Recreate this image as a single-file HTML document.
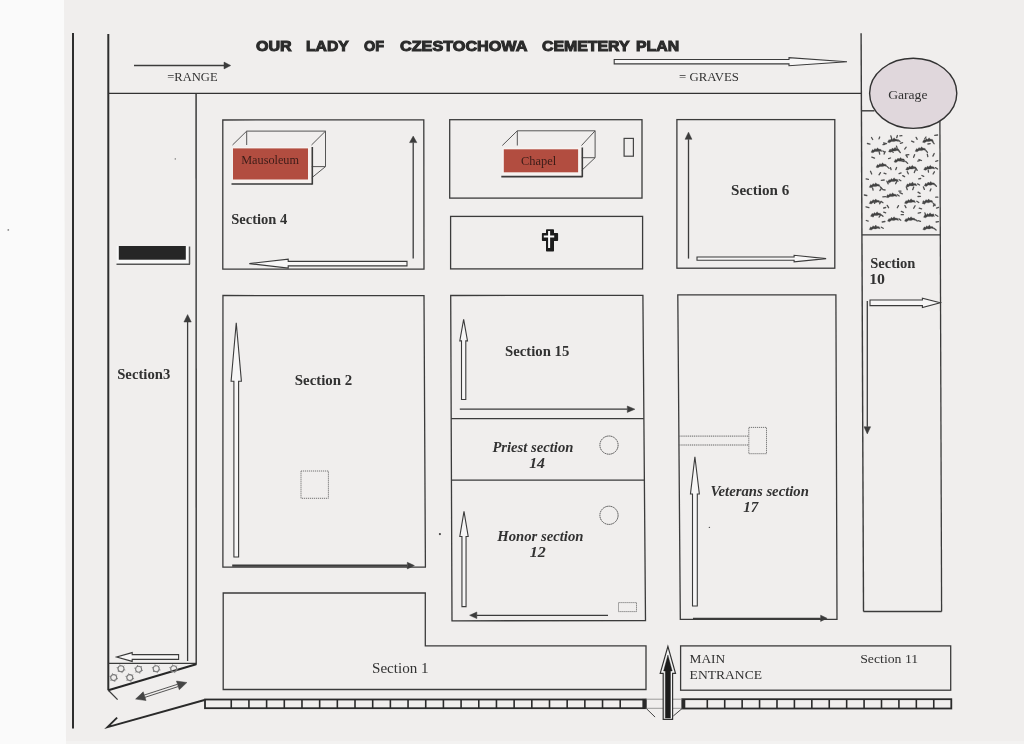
<!DOCTYPE html>
<html><head><meta charset="utf-8"><title>Our Lady of Czestochowa Cemetery Plan</title>
<style>
html,body{margin:0;padding:0;background:#f9f9f9;}
body{width:1024px;height:744px;overflow:hidden;position:relative;font-family:"Liberation Serif",serif;}
svg{position:absolute;left:0;top:0;}
</style></head><body>
<svg width="1024" height="744" viewBox="0 0 1024 744">
<rect x="0" y="0" width="1024" height="744" fill="#fafafa"/>
<polygon points="64,0 1024,0 1024,744 66,744" fill="#f0eeed"/>
<rect x="66" y="741" width="958" height="3" fill="#f3f2f1"/>
<defs><filter id="sb" filterUnits="userSpaceOnUse" x="0" y="0" width="1024" height="744"><feGaussianBlur stdDeviation="0.35"/></filter></defs>
<g filter="url(#sb)">
<circle cx="8.3" cy="229.9" r="0.9" fill="#888"/>
<circle cx="439.9" cy="534.1" r="1.1" fill="#444"/>
<circle cx="709.4" cy="527.4" r="0.7" fill="#555"/>
<circle cx="175.3" cy="158.9" r="0.7" fill="#666"/>
<line x1="73" y1="33" x2="73" y2="728.5" stroke="#2e2e2e" stroke-width="2.0" />
<line x1="108.3" y1="34" x2="108.3" y2="690.3" stroke="#2e2e2e" stroke-width="2.0" />
<line x1="108" y1="93.4" x2="861" y2="93.4" stroke="#333" stroke-width="1.4" />
<line x1="861.1" y1="33.2" x2="863.5" y2="611.5" stroke="#3a3a3a" stroke-width="1.4" />
<line x1="196.1" y1="93.4" x2="196.2" y2="664.8" stroke="#333" stroke-width="1.4" />
<text x="256.00" y="51.10" font-family="Liberation Sans" font-size="14.6" font-weight="bold" font-style="normal" fill="#2a2a2a" textLength="35.74" lengthAdjust="spacingAndGlyphs" stroke="#2a2a2a" stroke-width="1.0">OUR</text>
<text x="306.00" y="51.10" font-family="Liberation Sans" font-size="14.6" font-weight="bold" font-style="normal" fill="#2a2a2a" textLength="42.81" lengthAdjust="spacingAndGlyphs" stroke="#2a2a2a" stroke-width="1.0">LADY</text>
<text x="364.00" y="51.10" font-family="Liberation Sans" font-size="14.6" font-weight="bold" font-style="normal" fill="#2a2a2a" textLength="20.05" lengthAdjust="spacingAndGlyphs" stroke="#2a2a2a" stroke-width="1.0">OF</text>
<text x="400.00" y="51.10" font-family="Liberation Sans" font-size="14.6" font-weight="bold" font-style="normal" fill="#2a2a2a" textLength="127.47" lengthAdjust="spacingAndGlyphs" stroke="#2a2a2a" stroke-width="1.0">CZESTOCHOWA</text>
<text x="542.00" y="51.10" font-family="Liberation Sans" font-size="14.6" font-weight="bold" font-style="normal" fill="#2a2a2a" textLength="87.51" lengthAdjust="spacingAndGlyphs" stroke="#2a2a2a" stroke-width="1.0">CEMETERY</text>
<text x="636.00" y="51.10" font-family="Liberation Sans" font-size="14.6" font-weight="bold" font-style="normal" fill="#2a2a2a" textLength="43.06" lengthAdjust="spacingAndGlyphs" stroke="#2a2a2a" stroke-width="1.0">PLAN</text>
<line x1="134" y1="65.5" x2="224" y2="65.5" stroke="#3b3b3b" stroke-width="1.6" />
<polygon points="224.00,62.10 230.70,65.50 224.00,68.90" stroke="#3b3b3b" stroke-width="0.5" fill="#3b3b3b" stroke-linejoin="miter" />
<text x="167.20" y="80.70" font-family="Liberation Serif" font-size="13" font-weight="normal" font-style="normal" fill="#323232" textLength="50.47" lengthAdjust="spacingAndGlyphs" >=RANGE</text>
<polygon points="614.20,59.50 789.00,59.50 789.00,57.70 847.00,61.70 789.00,65.70 789.00,63.90 614.20,63.90" stroke="#3b3b3b" stroke-width="1.1" fill="#f7f6f6" stroke-linejoin="miter" />
<text x="679.00" y="80.50" font-family="Liberation Serif" font-size="13" font-weight="normal" font-style="normal" fill="#323232" textLength="59.89" lengthAdjust="spacingAndGlyphs" >= GRAVES</text>
<ellipse cx="913.2" cy="93.3" rx="43.6" ry="35.1" fill="#e0d7dc" stroke="#333" stroke-width="1.4"/>
<text x="888.20" y="98.50" font-family="Liberation Serif" font-size="13.5" font-weight="normal" font-style="normal" fill="#323232" textLength="39.29" lengthAdjust="spacingAndGlyphs" >Garage</text>
<line x1="861.2" y1="110.8" x2="874.5" y2="110.8" stroke="#3b3b3b" stroke-width="1.4" />
<line x1="939.9" y1="121" x2="941.6" y2="611.5" stroke="#3b3b3b" stroke-width="1.3" />
<line x1="863.5" y1="611.5" x2="941.6" y2="611.5" stroke="#3b3b3b" stroke-width="1.3" />
<line x1="861.8" y1="234.8" x2="940.3" y2="234.8" stroke="#3b3b3b" stroke-width="1.3" />
<path d="M871.0,152.2 L872.5,149.5 L873.5,150.3 L875.0,148.4 L876.0,149.4 L877.7,147.8 L878.5,149.1 L881.0,149.4 L882.0,151.5 L879.5,150.9 L877.5,151.6 L875.0,151.4 L873.0,152.8 Z" fill="#424242" stroke="#424242" stroke-width="0.3" stroke-linejoin="round"/>
<path d="M870.0,144.2 l-2.6,-0.7" stroke="#505050" stroke-width="1.3" stroke-linecap="round"/>
<path d="M872.7,139.5 l-1.2,-2.0" stroke="#505050" stroke-width="1.3" stroke-linecap="round"/>
<path d="M879.0,138.9 l0.7,-1.9" stroke="#505050" stroke-width="1.3" stroke-linecap="round"/>
<path d="M883.0,144.7 l2.0,-0.4" stroke="#505050" stroke-width="1.3" stroke-linecap="round"/>
<path d="M882.9,151.0 l1.7,1.3" stroke="#505050" stroke-width="1.3" stroke-linecap="round"/>
<path d="M888.5,151.7 L890.0,149.0 L891.0,149.8 L892.5,147.9 L893.5,148.9 L895.2,147.3 L896.0,148.6 L898.5,148.9 L899.5,151.0 L897.0,150.4 L895.0,151.1 L892.5,150.9 L890.5,152.3 Z" fill="#424242" stroke="#424242" stroke-width="0.3" stroke-linejoin="round"/>
<path d="M886.5,143.7 l-2.9,-0.7" stroke="#505050" stroke-width="1.3" stroke-linecap="round"/>
<path d="M891.7,138.6 l-0.9,-2.8" stroke="#505050" stroke-width="1.3" stroke-linecap="round"/>
<path d="M896.7,137.7 l0.7,-2.2" stroke="#505050" stroke-width="1.3" stroke-linecap="round"/>
<path d="M900.4,143.4 l2.2,-0.7" stroke="#505050" stroke-width="1.3" stroke-linecap="round"/>
<path d="M898.6,150.6 l1.7,1.9" stroke="#505050" stroke-width="1.3" stroke-linecap="round"/>
<path d="M915.1,151.2 L916.6,148.5 L917.6,149.3 L919.1,147.4 L920.1,148.4 L921.8,146.8 L922.6,148.1 L925.1,148.4 L926.1,150.5 L923.6,149.9 L921.6,150.6 L919.1,150.4 L917.1,151.8 Z" fill="#424242" stroke="#424242" stroke-width="0.3" stroke-linejoin="round"/>
<path d="M913.9,142.1 l-2.3,-1.0" stroke="#505050" stroke-width="1.3" stroke-linecap="round"/>
<path d="M917.2,139.3 l-1.1,-1.9" stroke="#505050" stroke-width="1.3" stroke-linecap="round"/>
<path d="M924.7,138.9 l1.3,-1.9" stroke="#505050" stroke-width="1.3" stroke-linecap="round"/>
<path d="M927.9,144.0 l2.3,-0.3" stroke="#505050" stroke-width="1.3" stroke-linecap="round"/>
<path d="M926.0,150.8 l1.5,1.6" stroke="#505050" stroke-width="1.3" stroke-linecap="round"/>
<path d="M876.0,167.2 L877.5,164.5 L878.5,165.3 L880.0,163.4 L881.0,164.4 L882.7,162.8 L883.5,164.1 L886.0,164.4 L887.0,166.5 L884.5,165.9 L882.5,166.6 L880.0,166.4 L878.0,167.8 Z" fill="#424242" stroke="#424242" stroke-width="0.3" stroke-linejoin="round"/>
<path d="M874.5,158.2 l-2.7,-1.1" stroke="#505050" stroke-width="1.3" stroke-linecap="round"/>
<path d="M879.7,154.1 l-0.7,-2.9" stroke="#505050" stroke-width="1.3" stroke-linecap="round"/>
<path d="M884.1,154.1 l1.0,-2.6" stroke="#505050" stroke-width="1.3" stroke-linecap="round"/>
<path d="M888.6,158.6 l1.9,-0.6" stroke="#505050" stroke-width="1.3" stroke-linecap="round"/>
<path d="M887.3,166.6 l1.8,1.8" stroke="#505050" stroke-width="1.3" stroke-linecap="round"/>
<path d="M894.0,161.9 L895.5,159.2 L896.5,160.0 L898.0,158.1 L899.0,159.1 L900.7,157.5 L901.5,158.8 L904.0,159.1 L905.0,161.2 L902.5,160.6 L900.5,161.3 L898.0,161.1 L896.0,162.5 Z" fill="#424242" stroke="#424242" stroke-width="0.3" stroke-linejoin="round"/>
<path d="M893.3,152.2 l-2.4,-1.3" stroke="#505050" stroke-width="1.3" stroke-linecap="round"/>
<path d="M897.2,148.4 l-0.7,-2.3" stroke="#505050" stroke-width="1.3" stroke-linecap="round"/>
<path d="M904.7,149.1 l1.5,-1.9" stroke="#505050" stroke-width="1.3" stroke-linecap="round"/>
<path d="M906.1,155.0 l2.7,-0.3" stroke="#505050" stroke-width="1.3" stroke-linecap="round"/>
<path d="M905.7,161.5 l2.0,1.9" stroke="#505050" stroke-width="1.3" stroke-linecap="round"/>
<path d="M905.7,169.7 L907.2,167.0 L908.2,167.8 L909.7,165.9 L910.7,166.9 L912.4,165.3 L913.2,166.6 L915.7,166.9 L916.7,169.0 L914.2,168.4 L912.2,169.1 L909.7,168.9 L907.7,170.3 Z" fill="#424242" stroke="#424242" stroke-width="0.3" stroke-linejoin="round"/>
<path d="M904.2,161.6 l-2.6,-0.7" stroke="#505050" stroke-width="1.3" stroke-linecap="round"/>
<path d="M907.3,157.2 l-1.1,-1.8" stroke="#505050" stroke-width="1.3" stroke-linecap="round"/>
<path d="M913.6,157.3 l1.0,-2.6" stroke="#505050" stroke-width="1.3" stroke-linecap="round"/>
<path d="M917.8,161.2 l2.3,-0.8" stroke="#505050" stroke-width="1.3" stroke-linecap="round"/>
<path d="M915.6,168.5 l1.6,1.8" stroke="#505050" stroke-width="1.3" stroke-linecap="round"/>
<path d="M923.7,169.7 L925.2,167.0 L926.2,167.8 L927.7,165.9 L928.7,166.9 L930.4,165.3 L931.2,166.6 L933.7,166.9 L934.7,169.0 L932.2,168.4 L930.2,169.1 L927.7,168.9 L925.7,170.3 Z" fill="#424242" stroke="#424242" stroke-width="0.3" stroke-linejoin="round"/>
<path d="M921.5,160.5 l-2.6,-1.0" stroke="#505050" stroke-width="1.3" stroke-linecap="round"/>
<path d="M927.8,156.6 l-0.5,-2.4" stroke="#505050" stroke-width="1.3" stroke-linecap="round"/>
<path d="M932.9,156.1 l1.3,-2.6" stroke="#505050" stroke-width="1.3" stroke-linecap="round"/>
<path d="M935.7,161.3 l2.1,-0.7" stroke="#505050" stroke-width="1.3" stroke-linecap="round"/>
<path d="M935.4,167.6 l2.2,1.4" stroke="#505050" stroke-width="1.3" stroke-linecap="round"/>
<path d="M869.2,187.2 L870.7,184.5 L871.7,185.3 L873.2,183.4 L874.2,184.4 L875.9,182.8 L876.7,184.1 L879.2,184.4 L880.2,186.5 L877.7,185.9 L875.7,186.6 L873.2,186.4 L871.2,187.8 Z" fill="#424242" stroke="#424242" stroke-width="0.3" stroke-linejoin="round"/>
<path d="M868.4,179.4 l-2.3,-0.6" stroke="#505050" stroke-width="1.3" stroke-linecap="round"/>
<path d="M871.7,174.0 l-1.2,-2.7" stroke="#505050" stroke-width="1.3" stroke-linecap="round"/>
<path d="M879.0,174.8 l1.5,-2.2" stroke="#505050" stroke-width="1.3" stroke-linecap="round"/>
<path d="M881.3,180.3 l2.9,-0.3" stroke="#505050" stroke-width="1.3" stroke-linecap="round"/>
<path d="M880.4,187.0 l1.9,2.0" stroke="#505050" stroke-width="1.3" stroke-linecap="round"/>
<path d="M887.5,182.2 L889.0,179.5 L890.0,180.3 L891.5,178.4 L892.5,179.4 L894.2,177.8 L895.0,179.1 L897.5,179.4 L898.5,181.5 L896.0,180.9 L894.0,181.6 L891.5,181.4 L889.5,182.8 Z" fill="#424242" stroke="#424242" stroke-width="0.3" stroke-linejoin="round"/>
<path d="M886.0,173.8 l-2.0,-0.6" stroke="#505050" stroke-width="1.3" stroke-linecap="round"/>
<path d="M891.1,169.7 l-0.6,-2.0" stroke="#505050" stroke-width="1.3" stroke-linecap="round"/>
<path d="M895.7,169.7 l0.9,-2.2" stroke="#505050" stroke-width="1.3" stroke-linecap="round"/>
<path d="M899.1,173.7 l2.0,-0.8" stroke="#505050" stroke-width="1.3" stroke-linecap="round"/>
<path d="M899.2,179.7 l1.7,1.0" stroke="#505050" stroke-width="1.3" stroke-linecap="round"/>
<path d="M905.9,186.5 L907.4,183.8 L908.4,184.6 L909.9,182.7 L910.9,183.7 L912.6,182.1 L913.4,183.4 L915.9,183.7 L916.9,185.8 L914.4,185.2 L912.4,185.9 L909.9,185.7 L907.9,187.1 Z" fill="#424242" stroke="#424242" stroke-width="0.3" stroke-linejoin="round"/>
<path d="M904.6,176.6 l-1.9,-1.0" stroke="#505050" stroke-width="1.3" stroke-linecap="round"/>
<path d="M908.3,173.8 l-1.0,-2.1" stroke="#505050" stroke-width="1.3" stroke-linecap="round"/>
<path d="M914.3,172.6 l1.1,-2.8" stroke="#505050" stroke-width="1.3" stroke-linecap="round"/>
<path d="M918.7,178.9 l2.0,-0.4" stroke="#505050" stroke-width="1.3" stroke-linecap="round"/>
<path d="M917.6,183.9 l2.0,1.1" stroke="#505050" stroke-width="1.3" stroke-linecap="round"/>
<path d="M924.2,185.8 L925.7,183.1 L926.7,183.9 L928.2,182.0 L929.2,183.0 L930.9,181.4 L931.7,182.7 L934.2,183.0 L935.2,185.1 L932.7,184.5 L930.7,185.2 L928.2,185.0 L926.2,186.4 Z" fill="#424242" stroke="#424242" stroke-width="0.3" stroke-linejoin="round"/>
<path d="M923.7,176.4 l-1.8,-0.9" stroke="#505050" stroke-width="1.3" stroke-linecap="round"/>
<path d="M928.5,172.1 l-0.3,-2.1" stroke="#505050" stroke-width="1.3" stroke-linecap="round"/>
<path d="M933.1,174.0 l1.3,-2.2" stroke="#505050" stroke-width="1.3" stroke-linecap="round"/>
<path d="M934.7,184.5 l1.7,1.7" stroke="#505050" stroke-width="1.3" stroke-linecap="round"/>
<path d="M869.2,203.4 L870.7,200.7 L871.7,201.5 L873.2,199.6 L874.2,200.6 L875.9,199.0 L876.7,200.3 L879.2,200.6 L880.2,202.7 L877.7,202.1 L875.7,202.8 L873.2,202.6 L871.2,204.0 Z" fill="#424242" stroke="#424242" stroke-width="0.3" stroke-linejoin="round"/>
<path d="M866.8,195.5 l-2.5,-0.5" stroke="#505050" stroke-width="1.3" stroke-linecap="round"/>
<path d="M873.1,190.2 l-0.5,-2.2" stroke="#505050" stroke-width="1.3" stroke-linecap="round"/>
<path d="M879.9,190.5 l1.7,-2.3" stroke="#505050" stroke-width="1.3" stroke-linecap="round"/>
<path d="M882.8,196.8 l2.7,-0.1" stroke="#505050" stroke-width="1.3" stroke-linecap="round"/>
<path d="M881.0,201.4 l2.0,1.3" stroke="#505050" stroke-width="1.3" stroke-linecap="round"/>
<path d="M886.1,197.2 L887.6,194.5 L888.6,195.3 L890.1,193.4 L891.1,194.4 L892.8,192.8 L893.6,194.1 L896.1,194.4 L897.1,196.5 L894.6,195.9 L892.6,196.6 L890.1,196.4 L888.1,197.8 Z" fill="#424242" stroke="#424242" stroke-width="0.3" stroke-linejoin="round"/>
<path d="M885.1,190.0 l-2.3,-0.3" stroke="#505050" stroke-width="1.3" stroke-linecap="round"/>
<path d="M888.2,183.9 l-1.3,-2.7" stroke="#505050" stroke-width="1.3" stroke-linecap="round"/>
<path d="M895.6,183.7 l1.4,-2.6" stroke="#505050" stroke-width="1.3" stroke-linecap="round"/>
<path d="M898.8,191.1 l2.2,0.0" stroke="#505050" stroke-width="1.3" stroke-linecap="round"/>
<path d="M897.4,194.8 l1.8,1.2" stroke="#505050" stroke-width="1.3" stroke-linecap="round"/>
<path d="M904.5,203.2 L906.0,200.5 L907.0,201.3 L908.5,199.4 L909.5,200.4 L911.2,198.8 L912.0,200.1 L914.5,200.4 L915.5,202.5 L913.0,201.9 L911.0,202.6 L908.5,202.4 L906.5,203.8 Z" fill="#424242" stroke="#424242" stroke-width="0.3" stroke-linejoin="round"/>
<path d="M902.4,193.8 l-2.6,-1.1" stroke="#505050" stroke-width="1.3" stroke-linecap="round"/>
<path d="M907.3,189.7 l-1.0,-2.6" stroke="#505050" stroke-width="1.3" stroke-linecap="round"/>
<path d="M912.7,189.7 l1.0,-2.7" stroke="#505050" stroke-width="1.3" stroke-linecap="round"/>
<path d="M918.0,196.5 l2.5,-0.1" stroke="#505050" stroke-width="1.3" stroke-linecap="round"/>
<path d="M916.8,201.3 l2.0,1.2" stroke="#505050" stroke-width="1.3" stroke-linecap="round"/>
<path d="M922.1,203.4 L923.6,200.7 L924.6,201.5 L926.1,199.6 L927.1,200.6 L928.8,199.0 L929.6,200.3 L932.1,200.6 L933.1,202.7 L930.6,202.1 L928.6,202.8 L926.1,202.6 L924.1,204.0 Z" fill="#424242" stroke="#424242" stroke-width="0.3" stroke-linejoin="round"/>
<path d="M920.1,193.3 l-2.1,-1.1" stroke="#505050" stroke-width="1.3" stroke-linecap="round"/>
<path d="M924.4,189.4 l-1.0,-2.5" stroke="#505050" stroke-width="1.3" stroke-linecap="round"/>
<path d="M930.1,190.9 l0.8,-2.0" stroke="#505050" stroke-width="1.3" stroke-linecap="round"/>
<path d="M935.7,197.2 l2.1,-0.0" stroke="#505050" stroke-width="1.3" stroke-linecap="round"/>
<path d="M933.3,203.5 l1.8,2.0" stroke="#505050" stroke-width="1.3" stroke-linecap="round"/>
<path d="M887.5,221.1 L889.0,218.4 L890.0,219.2 L891.5,217.3 L892.5,218.3 L894.2,216.7 L895.0,218.0 L897.5,218.3 L898.5,220.4 L896.0,219.8 L894.0,220.5 L891.5,220.3 L889.5,221.7 Z" fill="#424242" stroke="#424242" stroke-width="0.3" stroke-linejoin="round"/>
<path d="M885.7,212.8 l-2.0,-0.6" stroke="#505050" stroke-width="1.3" stroke-linecap="round"/>
<path d="M888.6,207.7 l-1.4,-2.3" stroke="#505050" stroke-width="1.3" stroke-linecap="round"/>
<path d="M897.3,207.7 l1.2,-2.1" stroke="#505050" stroke-width="1.3" stroke-linecap="round"/>
<path d="M901.2,214.7 l2.2,-0.0" stroke="#505050" stroke-width="1.3" stroke-linecap="round"/>
<path d="M898.9,218.9 l1.9,1.3" stroke="#505050" stroke-width="1.3" stroke-linecap="round"/>
<path d="M904.5,221.1 L906.0,218.4 L907.0,219.2 L908.5,217.3 L909.5,218.3 L911.2,216.7 L912.0,218.0 L914.5,218.3 L915.5,220.4 L913.0,219.8 L911.0,220.5 L908.5,220.3 L906.5,221.7 Z" fill="#424242" stroke="#424242" stroke-width="0.3" stroke-linejoin="round"/>
<path d="M903.5,212.3 l-2.2,-0.9" stroke="#505050" stroke-width="1.3" stroke-linecap="round"/>
<path d="M906.0,207.6 l-1.1,-2.1" stroke="#505050" stroke-width="1.3" stroke-linecap="round"/>
<path d="M913.7,208.2 l1.4,-2.5" stroke="#505050" stroke-width="1.3" stroke-linecap="round"/>
<path d="M918.2,213.2 l2.4,-0.5" stroke="#505050" stroke-width="1.3" stroke-linecap="round"/>
<path d="M915.7,219.8 l1.5,1.3" stroke="#505050" stroke-width="1.3" stroke-linecap="round"/>
<path d="M869.2,229.5 L870.7,226.8 L871.7,227.6 L873.2,225.7 L874.2,226.7 L875.9,225.1 L876.7,226.4 L879.2,226.7 L880.2,228.8 L877.7,228.2 L875.7,228.9 L873.2,228.7 L871.2,230.1 Z" fill="#424242" stroke="#424242" stroke-width="0.3" stroke-linejoin="round"/>
<path d="M868.2,221.1 l-1.9,-0.6" stroke="#505050" stroke-width="1.3" stroke-linecap="round"/>
<path d="M873.2,216.6 l-0.5,-2.4" stroke="#505050" stroke-width="1.3" stroke-linecap="round"/>
<path d="M879.1,217.1 l1.3,-1.9" stroke="#505050" stroke-width="1.3" stroke-linecap="round"/>
<path d="M882.2,222.0 l2.7,-0.5" stroke="#505050" stroke-width="1.3" stroke-linecap="round"/>
<path d="M881.3,227.2 l1.9,1.1" stroke="#505050" stroke-width="1.3" stroke-linecap="round"/>
<path d="M922.8,229.5 L924.3,226.8 L925.3,227.6 L926.8,225.7 L927.8,226.7 L929.5,225.1 L930.3,226.4 L932.8,226.7 L933.8,228.8 L931.3,228.2 L929.3,228.9 L926.8,228.7 L924.8,230.1 Z" fill="#424242" stroke="#424242" stroke-width="0.3" stroke-linejoin="round"/>
<path d="M920.5,221.3 l-2.4,-0.6" stroke="#505050" stroke-width="1.3" stroke-linecap="round"/>
<path d="M925.8,215.7 l-0.9,-2.8" stroke="#505050" stroke-width="1.3" stroke-linecap="round"/>
<path d="M932.0,216.5 l1.2,-2.2" stroke="#505050" stroke-width="1.3" stroke-linecap="round"/>
<path d="M936.1,222.0 l2.4,-0.4" stroke="#505050" stroke-width="1.3" stroke-linecap="round"/>
<path d="M933.9,228.2 l2.2,1.9" stroke="#505050" stroke-width="1.3" stroke-linecap="round"/>
<path d="M887.5,142.2 L889.0,139.5 L890.0,140.3 L891.5,138.4 L892.5,139.4 L894.2,137.8 L895.0,139.1 L897.5,139.4 L898.5,141.5 L896.0,140.9 L894.0,141.6 L891.5,141.4 L889.5,142.8 Z" fill="#424242" stroke="#424242" stroke-width="0.3" stroke-linejoin="round"/>
<path d="M899.8,135.8 l2.1,-0.1" stroke="#505050" stroke-width="1.3" stroke-linecap="round"/>
<path d="M898.2,140.1 l1.8,1.4" stroke="#505050" stroke-width="1.3" stroke-linecap="round"/>
<path d="M922.5,142.2 L924.0,139.5 L925.0,140.3 L926.5,138.4 L927.5,139.4 L929.2,137.8 L930.0,139.1 L932.5,139.4 L933.5,141.5 L931.0,140.9 L929.0,141.6 L926.5,141.4 L924.5,142.8 Z" fill="#424242" stroke="#424242" stroke-width="0.3" stroke-linejoin="round"/>
<path d="M934.7,135.3 l2.9,-0.3" stroke="#505050" stroke-width="1.3" stroke-linecap="round"/>
<path d="M932.3,141.4 l1.8,2.3" stroke="#505050" stroke-width="1.3" stroke-linecap="round"/>
<path d="M870.5,216.2 L872.0,213.5 L873.0,214.3 L874.5,212.4 L875.5,213.4 L877.2,211.8 L878.0,213.1 L880.5,213.4 L881.5,215.5 L879.0,214.9 L877.0,215.6 L874.5,215.4 L872.5,216.8 Z" fill="#424242" stroke="#424242" stroke-width="0.3" stroke-linejoin="round"/>
<path d="M868.9,207.7 l-2.9,-0.9" stroke="#505050" stroke-width="1.3" stroke-linecap="round"/>
<path d="M874.6,203.3 l-0.5,-2.4" stroke="#505050" stroke-width="1.3" stroke-linecap="round"/>
<path d="M879.6,203.8 l1.1,-1.9" stroke="#505050" stroke-width="1.3" stroke-linecap="round"/>
<path d="M883.7,208.0 l2.0,-0.5" stroke="#505050" stroke-width="1.3" stroke-linecap="round"/>
<path d="M881.5,214.9 l1.5,1.3" stroke="#505050" stroke-width="1.3" stroke-linecap="round"/>
<path d="M923.5,217.2 L925.0,214.5 L926.0,215.3 L927.5,213.4 L928.5,214.4 L930.2,212.8 L931.0,214.1 L933.5,214.4 L934.5,216.5 L932.0,215.9 L930.0,216.6 L927.5,216.4 L925.5,217.8 Z" fill="#424242" stroke="#424242" stroke-width="0.3" stroke-linejoin="round"/>
<path d="M921.6,208.9 l-2.4,-0.7" stroke="#505050" stroke-width="1.3" stroke-linecap="round"/>
<path d="M924.7,203.7 l-1.4,-2.4" stroke="#505050" stroke-width="1.3" stroke-linecap="round"/>
<path d="M933.4,206.0 l1.5,-1.7" stroke="#505050" stroke-width="1.3" stroke-linecap="round"/>
<path d="M936.5,208.1 l2.1,-0.8" stroke="#505050" stroke-width="1.3" stroke-linecap="round"/>
<path d="M935.3,214.8 l2.5,1.5" stroke="#505050" stroke-width="1.3" stroke-linecap="round"/>
<text x="870.20" y="267.60" font-family="Liberation Serif" font-size="14.5" font-weight="bold" font-style="normal" fill="#323232" textLength="45.22" lengthAdjust="spacingAndGlyphs" >Section</text>
<text x="869.20" y="284.00" font-family="Liberation Serif" font-size="14.5" font-weight="bold" font-style="normal" fill="#323232" textLength="15.85" lengthAdjust="spacingAndGlyphs" >10</text>
<polygon points="870.00,300.00 922.40,300.00 922.40,298.10 940.20,302.80 922.40,307.50 922.40,305.60 870.00,305.60" stroke="#3b3b3b" stroke-width="1.1" fill="#f7f6f6" stroke-linejoin="miter" />
<line x1="867.3" y1="301" x2="867.3" y2="426.8" stroke="#3b3b3b" stroke-width="1.3" />
<polygon points="864.00,426.80 867.30,433.90 870.60,426.80" stroke="#3b3b3b" stroke-width="0.5" fill="#3b3b3b" stroke-linejoin="miter" />
<polygon points="222.80,120.00 423.80,119.80 424.00,269.20 222.80,269.10" stroke="#3b3b3b" stroke-width="1.3" fill="none" stroke-linejoin="miter" />
<text x="231.20" y="223.70" font-family="Liberation Serif" font-size="14.5" font-weight="bold" font-style="normal" fill="#323232" textLength="56.09" lengthAdjust="spacingAndGlyphs" >Section 4</text>
<line x1="413.2" y1="258.5" x2="413.2" y2="142.6" stroke="#3b3b3b" stroke-width="1.3" />
<polygon points="409.55,142.60 413.20,136.10 416.85,142.60" stroke="#3b3b3b" stroke-width="0.5" fill="#3b3b3b" stroke-linejoin="miter" />
<polygon points="407.00,261.35 288.20,261.35 288.20,259.10 249.30,263.60 288.20,268.10 288.20,265.85 407.00,265.85" stroke="#3b3b3b" stroke-width="1.1" fill="#f7f6f6" stroke-linejoin="miter" />
<line x1="246.7" y1="131.1" x2="325.5" y2="131.1" stroke="#555" stroke-width="1.0" />
<line x1="325.5" y1="131.1" x2="325.5" y2="166.6" stroke="#555" stroke-width="1.0" />
<line x1="311.5" y1="166.6" x2="325.5" y2="166.6" stroke="#555" stroke-width="1.0" />
<line x1="246.7" y1="131.1" x2="246.7" y2="145" stroke="#555" stroke-width="1.0" />
<line x1="232.5" y1="145" x2="246.7" y2="131.1" stroke="#555" stroke-width="1.0" />
<line x1="311.5" y1="145" x2="325.5" y2="131.1" stroke="#555" stroke-width="1.0" />
<line x1="311.5" y1="178" x2="325.5" y2="166.6" stroke="#555" stroke-width="1.0" />
<rect x="232.5" y="147" width="79.0" height="36" fill="#f7f2f0"/>
<rect x="233" y="148.4" width="75" height="31.099999999999994" fill="#b24e41"/>
<line x1="231.5" y1="184" x2="312.5" y2="184" stroke="#3a3a3a" stroke-width="1.6" />
<line x1="312.3" y1="147" x2="312.3" y2="184.5" stroke="#3a3a3a" stroke-width="1.6" />
<text x="241.20" y="164.30" font-family="Liberation Serif" font-size="12" font-weight="normal" font-style="normal" fill="#3c1c18" textLength="57.81" lengthAdjust="spacingAndGlyphs" >Mausoleum</text>
<rect x="449.7" y="119.7" width="192.30" height="78.40" stroke="#3b3b3b" stroke-width="1.3" fill="none" />
<line x1="517.3" y1="130.8" x2="595.1" y2="130.8" stroke="#555" stroke-width="1.0" />
<line x1="595.1" y1="130.8" x2="595.1" y2="157.7" stroke="#555" stroke-width="1.0" />
<line x1="581.5" y1="157.7" x2="595.1" y2="157.7" stroke="#555" stroke-width="1.0" />
<line x1="517.3" y1="130.8" x2="517.3" y2="145.5" stroke="#555" stroke-width="1.0" />
<line x1="502.3" y1="145.5" x2="517.3" y2="130.8" stroke="#555" stroke-width="1.0" />
<line x1="581.5" y1="145.5" x2="595.1" y2="130.8" stroke="#555" stroke-width="1.0" />
<line x1="581.5" y1="170.6" x2="595.1" y2="157.7" stroke="#555" stroke-width="1.0" />
<rect x="502.3" y="147.5" width="79.19999999999999" height="28.099999999999994" fill="#f7f2f0"/>
<rect x="503.8" y="149.3" width="74.30000000000001" height="23.0" fill="#b24e41"/>
<line x1="501.3" y1="176.6" x2="582.5" y2="176.6" stroke="#3a3a3a" stroke-width="1.6" />
<line x1="582.3" y1="147.5" x2="582.3" y2="177.1" stroke="#3a3a3a" stroke-width="1.6" />
<text x="521.00" y="165.00" font-family="Liberation Serif" font-size="12" font-weight="normal" font-style="normal" fill="#3c1c18" textLength="35.28" lengthAdjust="spacingAndGlyphs" >Chapel</text>
<rect x="624.1" y="138.4" width="9.30" height="17.80" stroke="#444" stroke-width="1.2" fill="none" />
<rect x="450.6" y="216.4" width="192.00" height="52.50" stroke="#3b3b3b" stroke-width="1.3" fill="none" />
<path d="M546.75,230.05 H553.25 V233.85 H557.35 V240.25 H553.25 V250.75 H546.75 V240.25 H542.65 V233.85 H546.75 Z" fill="#1e1e1e" stroke="#1e1e1e" stroke-width="1.5" stroke-linejoin="round"/>
<path d="M548.1,231 h2 v4.5 h4.1 v2 h-4.1 v10.6 h-2 v-10.6 h-4.3 v-2 h4.3 z" fill="#fafafa"/>
<rect x="676.9" y="119.6" width="157.90" height="148.60" stroke="#3b3b3b" stroke-width="1.3" fill="none" />
<text x="731.00" y="195.00" font-family="Liberation Serif" font-size="14.5" font-weight="bold" font-style="normal" fill="#323232" textLength="58.23" lengthAdjust="spacingAndGlyphs" >Section 6</text>
<line x1="688.5" y1="258.6" x2="688.5" y2="139.3" stroke="#3b3b3b" stroke-width="1.3" />
<polygon points="685.05,139.30 688.50,132.20 691.95,139.30" stroke="#3b3b3b" stroke-width="0.5" fill="#3b3b3b" stroke-linejoin="miter" />
<polygon points="697.00,257.00 794.10,257.00 794.10,255.30 826.10,258.60 794.10,261.90 794.10,260.20 697.00,260.20" stroke="#3b3b3b" stroke-width="1.1" fill="#f7f6f6" stroke-linejoin="miter" />
<rect x="116.5" y="246" width="73" height="18.3" fill="#f8f8f8"/>
<rect x="118.8" y="246" width="67" height="13.7" fill="#262626"/>
<line x1="116.5" y1="264.3" x2="190" y2="264.3" stroke="#555" stroke-width="1.5" />
<line x1="189.5" y1="246.5" x2="189.5" y2="264.3" stroke="#555" stroke-width="1.5" />
<text x="117.20" y="378.60" font-family="Liberation Serif" font-size="14.5" font-weight="bold" font-style="normal" fill="#323232" textLength="53.08" lengthAdjust="spacingAndGlyphs" >Section3</text>
<line x1="187.6" y1="661" x2="187.6" y2="322" stroke="#3b3b3b" stroke-width="1.3" />
<polygon points="183.95,322.00 187.60,314.60 191.25,322.00" stroke="#3b3b3b" stroke-width="0.5" fill="#3b3b3b" stroke-linejoin="miter" />
<line x1="108.3" y1="663.3" x2="196.2" y2="663.3" stroke="#3b3b3b" stroke-width="1.3" />
<line x1="108.3" y1="690.3" x2="196.2" y2="664.3" stroke="#262626" stroke-width="2.0" />
<line x1="108.3" y1="690.3" x2="117.6" y2="699.6" stroke="#3b3b3b" stroke-width="1.3" />
<polygon points="178.60,654.65 132.20,654.65 132.20,652.60 116.60,657.00 132.20,661.40 132.20,659.35 178.60,659.35" stroke="#3b3b3b" stroke-width="1.1" fill="#f7f6f6" stroke-linejoin="miter" />
<circle cx="113.7" cy="677.6" r="3.0" fill="none" stroke="#7a7a7a" stroke-width="1.1"/>
<path d="M116.6,678.4 l1.4,0.4" stroke="#7a7a7a" stroke-width="0.9"/>
<path d="M114.5,680.5 l0.4,1.4" stroke="#7a7a7a" stroke-width="0.9"/>
<path d="M111.6,679.7 l-1.0,1.0" stroke="#7a7a7a" stroke-width="0.9"/>
<path d="M110.8,676.8 l-1.4,-0.4" stroke="#7a7a7a" stroke-width="0.9"/>
<path d="M112.9,674.7 l-0.4,-1.4" stroke="#7a7a7a" stroke-width="0.9"/>
<path d="M115.8,675.5 l1.0,-1.0" stroke="#7a7a7a" stroke-width="0.9"/>
<circle cx="121" cy="668.8" r="3.0" fill="none" stroke="#7a7a7a" stroke-width="1.1"/>
<path d="M123.9,669.6 l1.4,0.4" stroke="#7a7a7a" stroke-width="0.9"/>
<path d="M121.8,671.7 l0.4,1.4" stroke="#7a7a7a" stroke-width="0.9"/>
<path d="M118.9,670.9 l-1.0,1.0" stroke="#7a7a7a" stroke-width="0.9"/>
<path d="M118.1,668.0 l-1.4,-0.4" stroke="#7a7a7a" stroke-width="0.9"/>
<path d="M120.2,665.9 l-0.4,-1.4" stroke="#7a7a7a" stroke-width="0.9"/>
<path d="M123.1,666.7 l1.0,-1.0" stroke="#7a7a7a" stroke-width="0.9"/>
<circle cx="129.8" cy="677.6" r="3.0" fill="none" stroke="#7a7a7a" stroke-width="1.1"/>
<path d="M132.7,678.4 l1.4,0.4" stroke="#7a7a7a" stroke-width="0.9"/>
<path d="M130.6,680.5 l0.4,1.4" stroke="#7a7a7a" stroke-width="0.9"/>
<path d="M127.7,679.7 l-1.0,1.0" stroke="#7a7a7a" stroke-width="0.9"/>
<path d="M126.9,676.8 l-1.4,-0.4" stroke="#7a7a7a" stroke-width="0.9"/>
<path d="M129.0,674.7 l-0.4,-1.4" stroke="#7a7a7a" stroke-width="0.9"/>
<path d="M131.9,675.5 l1.0,-1.0" stroke="#7a7a7a" stroke-width="0.9"/>
<circle cx="138.6" cy="669.3" r="3.0" fill="none" stroke="#7a7a7a" stroke-width="1.1"/>
<path d="M141.5,670.1 l1.4,0.4" stroke="#7a7a7a" stroke-width="0.9"/>
<path d="M139.4,672.2 l0.4,1.4" stroke="#7a7a7a" stroke-width="0.9"/>
<path d="M136.5,671.4 l-1.0,1.0" stroke="#7a7a7a" stroke-width="0.9"/>
<path d="M135.7,668.5 l-1.4,-0.4" stroke="#7a7a7a" stroke-width="0.9"/>
<path d="M137.8,666.4 l-0.4,-1.4" stroke="#7a7a7a" stroke-width="0.9"/>
<path d="M140.7,667.2 l1.0,-1.0" stroke="#7a7a7a" stroke-width="0.9"/>
<circle cx="156.2" cy="668.8" r="3.0" fill="none" stroke="#7a7a7a" stroke-width="1.1"/>
<path d="M159.1,669.6 l1.4,0.4" stroke="#7a7a7a" stroke-width="0.9"/>
<path d="M157.0,671.7 l0.4,1.4" stroke="#7a7a7a" stroke-width="0.9"/>
<path d="M154.1,670.9 l-1.0,1.0" stroke="#7a7a7a" stroke-width="0.9"/>
<path d="M153.3,668.0 l-1.4,-0.4" stroke="#7a7a7a" stroke-width="0.9"/>
<path d="M155.4,665.9 l-0.4,-1.4" stroke="#7a7a7a" stroke-width="0.9"/>
<path d="M158.3,666.7 l1.0,-1.0" stroke="#7a7a7a" stroke-width="0.9"/>
<circle cx="173.7" cy="668.8" r="3.0" fill="none" stroke="#7a7a7a" stroke-width="1.1"/>
<path d="M176.6,669.6 l1.4,0.4" stroke="#7a7a7a" stroke-width="0.9"/>
<path d="M174.5,671.7 l0.4,1.4" stroke="#7a7a7a" stroke-width="0.9"/>
<path d="M171.6,670.9 l-1.0,1.0" stroke="#7a7a7a" stroke-width="0.9"/>
<path d="M170.8,668.0 l-1.4,-0.4" stroke="#7a7a7a" stroke-width="0.9"/>
<path d="M172.9,665.9 l-0.4,-1.4" stroke="#7a7a7a" stroke-width="0.9"/>
<path d="M175.8,666.7 l1.0,-1.0" stroke="#7a7a7a" stroke-width="0.9"/>
<polygon points="135.60,699.10 146.05,700.55 143.22,691.80" stroke="#444" stroke-width="0.5" fill="#444" stroke-linejoin="miter" />
<polygon points="186.90,682.50 179.28,689.80 176.45,681.05" stroke="#444" stroke-width="0.5" fill="#444" stroke-linejoin="miter" />
<line x1="144.269127547279" y1="695.0335239372389" x2="177.49198525788202" y2="684.2830475630477" stroke="#444" stroke-width="0.9" />
<line x1="145.00801474211798" y1="697.3169524369523" x2="178.230872452721" y2="686.5664760627611" stroke="#444" stroke-width="0.9" />
<polyline points="117.10,717.60 107.50,727.20 204.50,700.00" stroke="#2a2a2a" stroke-width="1.9" fill="none" />
<polygon points="222.95,295.50 424.00,295.70 425.40,567.10 222.90,567.10" stroke="#3b3b3b" stroke-width="1.3" fill="none" stroke-linejoin="miter" />
<text x="294.80" y="384.50" font-family="Liberation Serif" font-size="14.5" font-weight="bold" font-style="normal" fill="#323232" textLength="57.42" lengthAdjust="spacingAndGlyphs" >Section 2</text>
<polygon points="233.90,557.00 233.90,381.30 231.10,381.30 236.25,322.70 241.40,381.30 238.60,381.30 238.60,557.00" stroke="#3b3b3b" stroke-width="1.1" fill="#f7f6f6" stroke-linejoin="miter" />
<rect x="301" y="471" width="27.4" height="27.3" fill="none" stroke="#666" stroke-width="0.9" stroke-dasharray="1.2 0.8"/>
<line x1="232.2" y1="565.6" x2="407.3" y2="565.6" stroke="#3a3a3a" stroke-width="2.2" />
<polygon points="407.30,562.30 414.40,565.60 407.30,568.90" stroke="#3a3a3a" stroke-width="0.5" fill="#3a3a3a" stroke-linejoin="miter" />
<polygon points="450.70,295.50 642.90,295.30 645.50,620.60 452.00,620.80" stroke="#3b3b3b" stroke-width="1.3" fill="none" stroke-linejoin="miter" />
<line x1="451.19234552720565" y1="418.7" x2="643.8862895788503" y2="418.7" stroke="#3b3b3b" stroke-width="1.3" />
<line x1="451.43771902858896" y1="480.1" x2="644.377036581617" y2="480.1" stroke="#3b3b3b" stroke-width="1.3" />
<text x="505.00" y="356.30" font-family="Liberation Serif" font-size="14.5" font-weight="bold" font-style="normal" fill="#323232" textLength="64.25" lengthAdjust="spacingAndGlyphs" >Section 15</text>
<polygon points="461.50,399.50 461.50,340.90 459.80,340.90 463.65,319.40 467.50,340.90 465.80,340.90 465.80,399.50" stroke="#3b3b3b" stroke-width="1.1" fill="#f7f6f6" stroke-linejoin="miter" />
<line x1="459.8" y1="409.2" x2="627.3" y2="409.2" stroke="#3b3b3b" stroke-width="1.3" />
<polygon points="627.30,406.00 634.90,409.20 627.30,412.40" stroke="#3b3b3b" stroke-width="0.5" fill="#3b3b3b" stroke-linejoin="miter" />
<text x="492.40" y="451.50" font-family="Liberation Serif" font-size="14.5" font-weight="bold" font-style="italic" fill="#323232" textLength="80.99" lengthAdjust="spacingAndGlyphs" >Priest section</text>
<text x="529.20" y="467.60" font-family="Liberation Serif" font-size="14.5" font-weight="bold" font-style="italic" fill="#323232" textLength="15.78" lengthAdjust="spacingAndGlyphs" >14</text>
<text x="497.20" y="540.60" font-family="Liberation Serif" font-size="14.5" font-weight="bold" font-style="italic" fill="#323232" textLength="86.32" lengthAdjust="spacingAndGlyphs" >Honor section</text>
<text x="529.80" y="557.40" font-family="Liberation Serif" font-size="14.5" font-weight="bold" font-style="italic" fill="#323232" textLength="15.99" lengthAdjust="spacingAndGlyphs" >12</text>
<circle cx="609" cy="445.1" r="9.1" fill="none" stroke="#4a4a4a" stroke-width="1.0" stroke-dasharray="1.5 0.6"/>
<circle cx="609" cy="515.3" r="9.1" fill="none" stroke="#4a4a4a" stroke-width="1.0" stroke-dasharray="1.5 0.6"/>
<polygon points="461.95,606.60 461.95,536.50 459.80,536.50 464.00,511.30 468.20,536.50 466.05,536.50 466.05,606.60" stroke="#3b3b3b" stroke-width="1.1" fill="#f7f6f6" stroke-linejoin="miter" />
<line x1="608" y1="615.3" x2="476.8" y2="615.3" stroke="#3b3b3b" stroke-width="1.3" />
<polygon points="476.80,612.00 469.60,615.30 476.80,618.60" stroke="#3b3b3b" stroke-width="0.5" fill="#3b3b3b" stroke-linejoin="miter" />
<rect x="618.5" y="602.6" width="18" height="9" fill="none" stroke="#666" stroke-width="0.9" stroke-dasharray="1.2 0.8"/>
<polygon points="677.80,294.90 835.90,294.90 837.00,619.40 680.30,619.40" stroke="#3b3b3b" stroke-width="1.3" fill="none" stroke-linejoin="miter" />
<line x1="678.6" y1="436.1" x2="748.8" y2="436.1" stroke="#666" stroke-width="1.0" stroke-dasharray="1.2 0.7"/>
<line x1="678.6" y1="445" x2="748.8" y2="445" stroke="#666" stroke-width="1.0" stroke-dasharray="1.2 0.7"/>
<rect x="748.8" y="427.4" width="17.7" height="26.3" fill="none" stroke="#666" stroke-width="0.9" stroke-dasharray="1.2 0.8"/>
<text x="710.40" y="495.50" font-family="Liberation Serif" font-size="14.5" font-weight="bold" font-style="italic" fill="#323232" textLength="98.51" lengthAdjust="spacingAndGlyphs" >Veterans section</text>
<text x="743.20" y="511.70" font-family="Liberation Serif" font-size="14.5" font-weight="bold" font-style="italic" fill="#323232" textLength="15.04" lengthAdjust="spacingAndGlyphs" >17</text>
<polygon points="692.50,606.00 692.50,494.00 690.45,494.00 694.90,456.80 699.35,494.00 697.30,494.00 697.30,606.00" stroke="#3b3b3b" stroke-width="1.1" fill="#f7f6f6" stroke-linejoin="miter" />
<line x1="693" y1="618.3" x2="820.6" y2="618.3" stroke="#3b3b3b" stroke-width="1.3" />
<polygon points="820.60,615.20 827.10,618.30 820.60,621.40" stroke="#3b3b3b" stroke-width="0.5" fill="#3b3b3b" stroke-linejoin="miter" />
<polygon points="223.20,593.00 425.30,593.00 425.30,645.80 646.00,645.80 646.00,689.50 223.20,689.50" stroke="#3b3b3b" stroke-width="1.3" fill="none" stroke-linejoin="miter" />
<text x="372.00" y="672.90" font-family="Liberation Serif" font-size="15" font-weight="normal" font-style="normal" fill="#323232" textLength="56.57" lengthAdjust="spacingAndGlyphs" >Section 1</text>
<rect x="680.6" y="645.9" width="270.10" height="44.30" stroke="#3b3b3b" stroke-width="1.3" fill="none" />
<text x="689.60" y="662.80" font-family="Liberation Serif" font-size="13.5" font-weight="normal" font-style="normal" fill="#323232" textLength="35.62" lengthAdjust="spacingAndGlyphs" >MAIN</text>
<text x="689.60" y="678.50" font-family="Liberation Serif" font-size="13.5" font-weight="normal" font-style="normal" fill="#323232" textLength="72.41" lengthAdjust="spacingAndGlyphs" >ENTRANCE</text>
<text x="860.20" y="663.40" font-family="Liberation Serif" font-size="13.5" font-weight="normal" font-style="normal" fill="#323232" textLength="58.04" lengthAdjust="spacingAndGlyphs" >Section 11</text>
<rect x="205" y="699.5" width="440.70" height="8.70" stroke="#2a2a2a" stroke-width="1.8" fill="none" />
<line x1="231.25" y1="699.5" x2="231.25" y2="708.2" stroke="#2a2a2a" stroke-width="1.6" />
<line x1="248.93" y1="699.5" x2="248.93" y2="708.2" stroke="#2a2a2a" stroke-width="1.6" />
<line x1="266.61" y1="699.5" x2="266.61" y2="708.2" stroke="#2a2a2a" stroke-width="1.6" />
<line x1="284.29" y1="699.5" x2="284.29" y2="708.2" stroke="#2a2a2a" stroke-width="1.6" />
<line x1="301.97" y1="699.5" x2="301.97" y2="708.2" stroke="#2a2a2a" stroke-width="1.6" />
<line x1="319.65" y1="699.5" x2="319.65" y2="708.2" stroke="#2a2a2a" stroke-width="1.6" />
<line x1="337.33" y1="699.5" x2="337.33" y2="708.2" stroke="#2a2a2a" stroke-width="1.6" />
<line x1="355.01" y1="699.5" x2="355.01" y2="708.2" stroke="#2a2a2a" stroke-width="1.6" />
<line x1="372.69" y1="699.5" x2="372.69" y2="708.2" stroke="#2a2a2a" stroke-width="1.6" />
<line x1="390.37" y1="699.5" x2="390.37" y2="708.2" stroke="#2a2a2a" stroke-width="1.6" />
<line x1="408.05" y1="699.5" x2="408.05" y2="708.2" stroke="#2a2a2a" stroke-width="1.6" />
<line x1="425.73" y1="699.5" x2="425.73" y2="708.2" stroke="#2a2a2a" stroke-width="1.6" />
<line x1="443.40999999999997" y1="699.5" x2="443.40999999999997" y2="708.2" stroke="#2a2a2a" stroke-width="1.6" />
<line x1="461.09000000000003" y1="699.5" x2="461.09000000000003" y2="708.2" stroke="#2a2a2a" stroke-width="1.6" />
<line x1="478.77" y1="699.5" x2="478.77" y2="708.2" stroke="#2a2a2a" stroke-width="1.6" />
<line x1="496.45" y1="699.5" x2="496.45" y2="708.2" stroke="#2a2a2a" stroke-width="1.6" />
<line x1="514.13" y1="699.5" x2="514.13" y2="708.2" stroke="#2a2a2a" stroke-width="1.6" />
<line x1="531.81" y1="699.5" x2="531.81" y2="708.2" stroke="#2a2a2a" stroke-width="1.6" />
<line x1="549.49" y1="699.5" x2="549.49" y2="708.2" stroke="#2a2a2a" stroke-width="1.6" />
<line x1="567.1700000000001" y1="699.5" x2="567.1700000000001" y2="708.2" stroke="#2a2a2a" stroke-width="1.6" />
<line x1="584.85" y1="699.5" x2="584.85" y2="708.2" stroke="#2a2a2a" stroke-width="1.6" />
<line x1="602.53" y1="699.5" x2="602.53" y2="708.2" stroke="#2a2a2a" stroke-width="1.6" />
<line x1="620.21" y1="699.5" x2="620.21" y2="708.2" stroke="#2a2a2a" stroke-width="1.6" />
<rect x="643" y="699.5" width="2.70" height="8.70" stroke="#2a2a2a" stroke-width="1.2" fill="data-x="#2a2a2a"" />
<rect x="643" y="699" width="3" height="9.5" fill="#2a2a2a"/>
<rect x="682.3" y="699.2" width="269.00" height="9.30" stroke="#2a2a2a" stroke-width="1.8" fill="none" />
<rect x="682.3" y="699" width="3" height="9.5" fill="#2a2a2a"/>
<line x1="707.3" y1="699.2" x2="707.3" y2="708.5" stroke="#2a2a2a" stroke-width="1.6" />
<line x1="724.7199999999999" y1="699.2" x2="724.7199999999999" y2="708.5" stroke="#2a2a2a" stroke-width="1.6" />
<line x1="742.14" y1="699.2" x2="742.14" y2="708.5" stroke="#2a2a2a" stroke-width="1.6" />
<line x1="759.56" y1="699.2" x2="759.56" y2="708.5" stroke="#2a2a2a" stroke-width="1.6" />
<line x1="776.98" y1="699.2" x2="776.98" y2="708.5" stroke="#2a2a2a" stroke-width="1.6" />
<line x1="794.4" y1="699.2" x2="794.4" y2="708.5" stroke="#2a2a2a" stroke-width="1.6" />
<line x1="811.8199999999999" y1="699.2" x2="811.8199999999999" y2="708.5" stroke="#2a2a2a" stroke-width="1.6" />
<line x1="829.24" y1="699.2" x2="829.24" y2="708.5" stroke="#2a2a2a" stroke-width="1.6" />
<line x1="846.66" y1="699.2" x2="846.66" y2="708.5" stroke="#2a2a2a" stroke-width="1.6" />
<line x1="864.0799999999999" y1="699.2" x2="864.0799999999999" y2="708.5" stroke="#2a2a2a" stroke-width="1.6" />
<line x1="881.5" y1="699.2" x2="881.5" y2="708.5" stroke="#2a2a2a" stroke-width="1.6" />
<line x1="898.92" y1="699.2" x2="898.92" y2="708.5" stroke="#2a2a2a" stroke-width="1.6" />
<line x1="916.3399999999999" y1="699.2" x2="916.3399999999999" y2="708.5" stroke="#2a2a2a" stroke-width="1.6" />
<line x1="933.76" y1="699.2" x2="933.76" y2="708.5" stroke="#2a2a2a" stroke-width="1.6" />
<line x1="645.7" y1="699.2" x2="682.3" y2="699.2" stroke="#777" stroke-width="0.7" />
<line x1="645.7" y1="708.3" x2="682.3" y2="708.3" stroke="#777" stroke-width="0.7" />
<line x1="646.4" y1="708.6" x2="655.1" y2="717.1" stroke="#444" stroke-width="1.0" />
<line x1="682" y1="708.6" x2="673.3" y2="716" stroke="#444" stroke-width="1.0" />
<polygon points="663.20,719.40 663.20,673.30 660.20,673.30 667.90,646.40 675.50,673.30 672.60,673.30 672.60,719.40" stroke="#333" stroke-width="1.2" fill="#f4f4f4" stroke-linejoin="miter" />
<polygon points="665.30,718.00 665.30,671.00 663.60,671.00 667.90,655.00 672.20,671.00 670.50,671.00 670.50,718.00" stroke="#1e1e1e" stroke-width="0.4" fill="#1e1e1e" stroke-linejoin="miter" />
</g>
</svg>
</body></html>
